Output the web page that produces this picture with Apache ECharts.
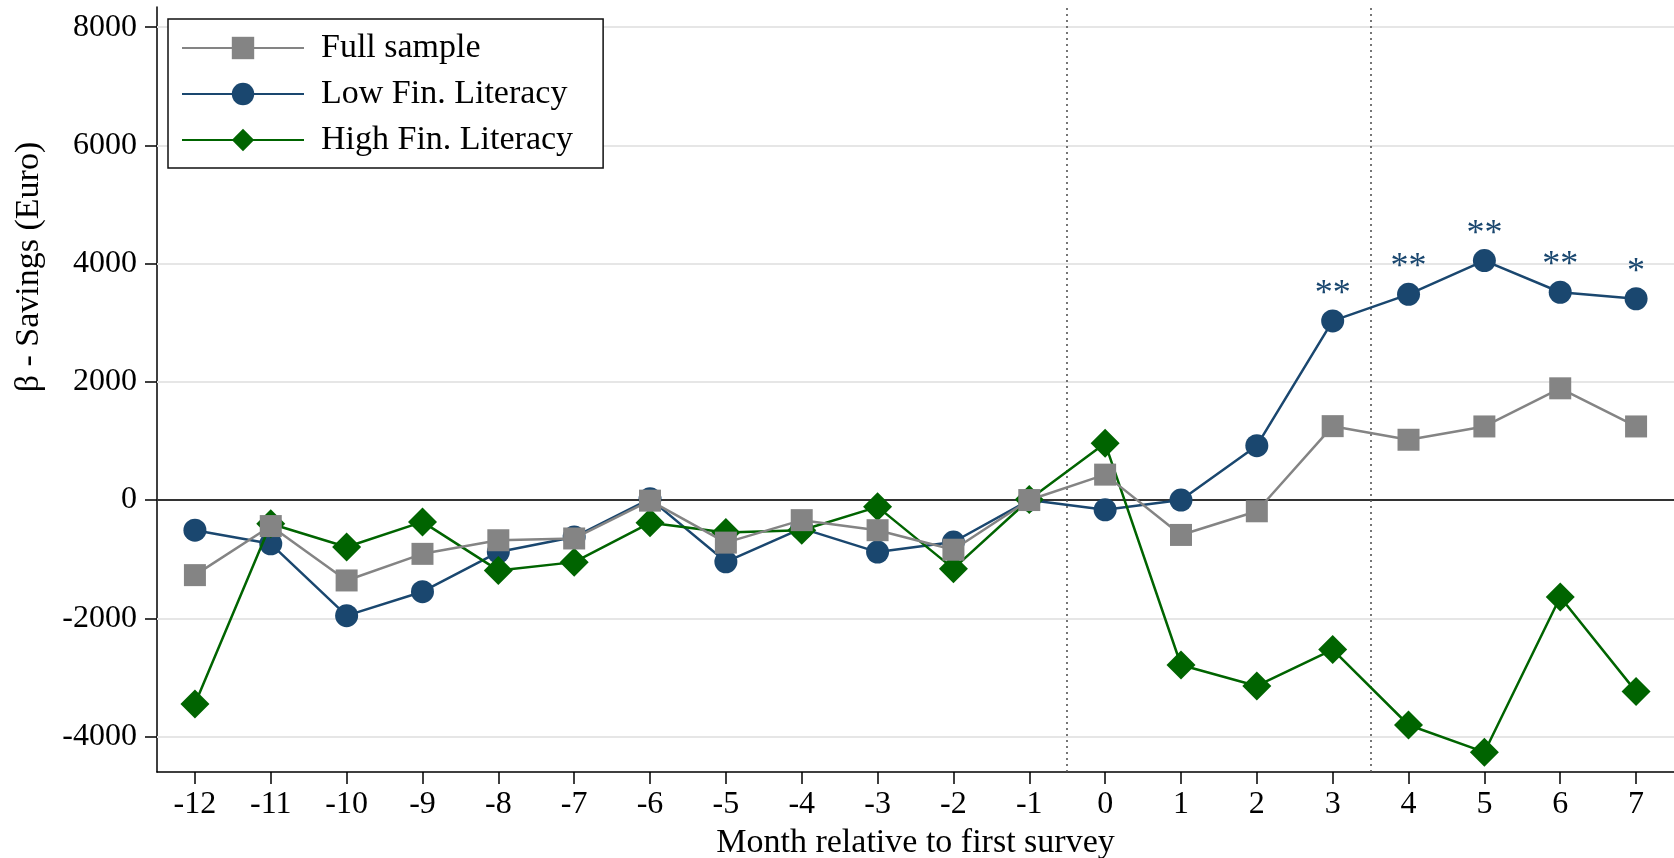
<!DOCTYPE html>
<html><head><meta charset="utf-8">
<script src="https://cdn.jsdelivr.net/npm/echarts@6/dist/echarts.min.js"></script>
<style>html,body{margin:0;padding:0;background:#fff}#c{width:1674px;height:858px}</style>
</head><body><div id="c"></div>
<script>
const months = [-12,-11,-10,-9,-8,-7,-6,-5,-4,-3,-2,-1,0,1,2,3,4,5,6,7];
const fullSample = [-1270,-440,-1360,-910,-680,-650,-10,-720,-340,-510,-840,0,430,-590,-190,1250,1020,1245,1890,1245];
const lowFinLit  = [-510,-740,-1955,-1550,-880,-625,20,-1045,-480,-880,-710,0,-165,0,920,3030,3480,4050,3515,3405];
const highFinLit = [-3450,-400,-795,-370,-1190,-1050,-385,-550,-510,-115,-1160,10,960,-2790,-3145,-2530,-3805,-4265,-1640,-3240];
const lowStars = ['','','','','','','','','','','','','','','','**','**','**','**','*'];
const yTicks = [-4000,-2000,0,2000,4000,6000,8000];
const eventLines = [-0.5, 3.5];
const seriesNames = ['Full sample','Low Fin. Literacy','High Fin. Literacy'];

const FF = 'Liberation Serif';
const pairs = arr => months.map((m,i)=>[m, arr[i]]);

const chart = echarts.init(document.getElementById('c'), null, {renderer:'canvas'});
chart.setOption({
  backgroundColor:'#fff',
  animation:false,
  grid:{left:157, right:0, top:7, bottom:86, outerBoundsMode:'none', containLabel:false},
  legend:{
    data:seriesNames, orient:'vertical', left:168, top:19, z:10,
    padding:[12,30,11,13], itemGap:12, itemWidth:122, itemHeight:28,
    borderColor:'#111', borderWidth:1.5, backgroundColor:'#fff',
    textStyle:{fontFamily:FF, fontSize:34, color:'#000', padding:[0,0,0,12]},
    selectedMode:false
  },
  xAxis:{
    type:'value', min:-12.5, max:7.5,
    name:'Month relative to first survey', nameLocation:'middle', nameGap:40,
    nameTextStyle:{fontFamily:FF, fontSize:34, color:'#000'},
    axisLine:{show:true, onZero:false, lineStyle:{color:'#000', width:1.5}},
    axisTick:{show:true, length:12, customValues:months, lineStyle:{color:'#000', width:1.5}},
    axisLabel:{customValues:months, margin:17, fontFamily:FF, fontSize:32, color:'#000'},
    splitLine:{show:false}
  },
  yAxis:{
    type:'value', min:-4600, max:8340,
    axisLine:{show:true, onZero:false, lineStyle:{color:'#000', width:1.5}},
    axisTick:{show:true, length:12, customValues:yTicks, lineStyle:{color:'#000', width:1.5}},
    axisLabel:{customValues:yTicks, margin:20, fontFamily:FF, fontSize:32, color:'#000', formatter:v=>String(v)},
    splitLine:{show:false}
  },
  graphic:[{
    type:'text', x:29, y:267, rotation:Math.PI/2,
    style:{text:'β - Savings (Euro)', fontFamily:FF, fontSize:34, fill:'#000', align:'center', verticalAlign:'middle'}
  }],
  series:[
    {
      type:'line', data:[], z:1, silent:true,
      markLine:{
        z:1, silent:true, symbol:'none', label:{show:false},
        data: yTicks.map(v=>({yAxis:v, lineStyle: v===0 ? {color:'#333', width:2.2, type:'solid'} : {color:'#e6e6e6', width:2.2, type:'solid'}}))
          .concat(eventLines.map(x=>({xAxis:x, lineStyle:{color:'#555', width:1.6, type:[2,4]}})))
      }
    },
    {
      name:'Low Fin. Literacy', type:'line', data:pairs(lowFinLit), z:2,
      symbol:'circle', symbolSize:23,
      lineStyle:{color:'#1a476f', width:2.5}, itemStyle:{color:'#1a476f'},
      label:{show:true, position:'top', distance:-3, formatter:p=>lowStars[p.dataIndex], fontFamily:FF, fontSize:36, color:'#1a476f'},
      emphasis:{disabled:true}
    },
    {
      name:'High Fin. Literacy', type:'line', data:pairs(highFinLit), z:3,
      symbol:'diamond', symbolSize:29,
      lineStyle:{color:'#006400', width:2.5}, itemStyle:{color:'#006400'},
      emphasis:{disabled:true}
    },
    {
      name:'Full sample', type:'line', data:pairs(fullSample), z:4,
      symbol:'rect', symbolSize:22,
      lineStyle:{color:'#848484', width:2.5}, itemStyle:{color:'#848484'},
      emphasis:{disabled:true}
    }
  ]
});
</script></body></html>
